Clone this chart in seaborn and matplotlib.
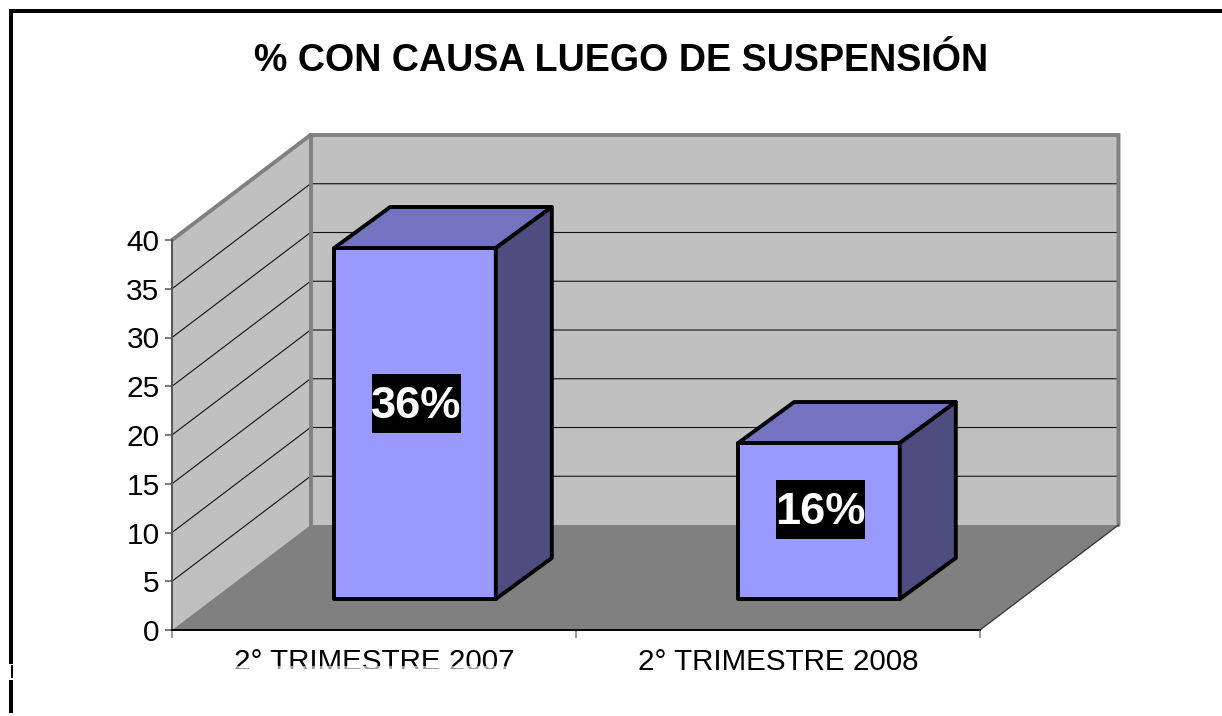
import matplotlib
matplotlib.use("Agg")
import matplotlib.pyplot as plt
from matplotlib.patches import Polygon, Rectangle
import seaborn as sns

periodos = ["2° TRIMESTRE 2007", "2° TRIMESTRE 2008"]
valores = [36, 16]
etiquetas = ["36%", "16%"]
yticks = [0, 5, 10, 15, 20, 25, 30, 35, 40]
titulo = "% CON CAUSA LUEGO DE SUSPENSIÓN"

W, H = 1222, 716
LEFT, RIGHT, BOTTOM, TOP = 172, 980, 630, 240

# pixel sizes of the fake 3D, converted to data units below
PX_X = (RIGHT - LEFT) / 2
PX_Y = (BOTTOM - TOP) / 40
wall_dx, wall_dy = 138.5 / PX_X, 105 / PX_Y
bar_off_x, bar_off_y = 41 / PX_X, 31 / PX_Y
bar_dx, bar_dy = 56 / PX_X, 41 / PX_Y

sns.set_style("white")
plt.rcParams["font.family"] = ["Liberation Sans", "DejaVu Sans"]

fig = plt.figure(figsize=(W / 100, H / 100), dpi=100, facecolor="white")
ax = fig.add_axes([LEFT / W, 1 - BOTTOM / H, (RIGHT - LEFT) / W, (BOTTOM - TOP) / H])
ax.patch.set_visible(False)

sns.barplot(x=periodos, y=valores, color="#9999FF", saturation=1, width=0.4,
            edgecolor="black", linewidth=2.8, ax=ax, zorder=4)
ax.set_xlim(-0.5, 1.5)
ax.set_ylim(0, 40)

x0, x1, y1 = -0.5, 1.5, 40


def poly(pts, fc, z, ec="none", lw=0):
    ax.add_patch(Polygon(pts, closed=True, facecolor=fc, edgecolor=ec, linewidth=lw,
                         zorder=z, clip_on=False, joinstyle="round"))


# walls and floor
poly([(x0 + wall_dx, wall_dy), (x1 + wall_dx, wall_dy), (x1 + wall_dx, y1 + wall_dy), (x0 + wall_dx, y1 + wall_dy)], "#C0C0C0", 1)
poly([(x0, 0), (x0 + wall_dx, wall_dy), (x0 + wall_dx, y1 + wall_dy), (x0, y1)], "#C0C0C0", 1)
poly([(x0, 0), (x1, 0), (x1 + wall_dx, wall_dy), (x0 + wall_dx, wall_dy)], "#808080", 1.5)

# gridlines on back and side wall
for v in yticks[1:-1]:
    ax.plot([x0, x0 + wall_dx, x1 + wall_dx], [v, v + wall_dy, v + wall_dy], color="#111111",
            lw=0.8, zorder=2, clip_on=False)

# wall borders
ax.plot([x0, x0 + wall_dx, x1 + wall_dx, x1 + wall_dx], [y1, y1 + wall_dy, y1 + wall_dy, wall_dy],
        color="#808080", lw=2.8, zorder=3, clip_on=False, solid_joinstyle="miter")
ax.plot([x0 + wall_dx, x0 + wall_dx], [wall_dy, y1 + wall_dy], color="#808080", lw=2.8, zorder=3, clip_on=False)
ax.plot([x1, x1 + wall_dx], [0, wall_dy], color="#333333", lw=0.9, zorder=3, clip_on=False)

# move seaborn's bars onto the floor and add top and side faces
for bar, val, lab in zip(ax.patches, valores, etiquetas):
    bar.set_x(bar.get_x() + bar_off_x)
    bar.set_y(bar_off_y)
    bar.set_clip_on(False)
    bar.set_joinstyle("round")
    xa, xb = bar.get_x(), bar.get_x() + bar.get_width()
    yb, yt = bar_off_y, bar_off_y + val
    poly([(xa, yt), (xb, yt), (xb + bar_dx, yt + bar_dy), (xa + bar_dx, yt + bar_dy)],
         "#7373BF", 4, "black", 2.8)
    poly([(xb, yb), (xb + bar_dx, yb + bar_dy), (xb + bar_dx, yt + bar_dy), (xb, yt)],
         "#4D4D80", 4, "black", 2.8)
    # data label, black box behind white bold text
    cx = (xa + xb) / 2 + 1.5 / PX_X
    cy = 3.82 + 0.5435 * val
    box_y = cy - 29.5 / PX_Y - 1.5 / PX_Y
    ax.add_patch(Rectangle((cx - 44.5 / PX_X, box_y), 89 / PX_X, 59 / PX_Y,
                           facecolor="black", edgecolor="none", zorder=5))
    ax.text(cx, cy, lab, color="white", fontsize=32.5, fontweight="bold",
            ha="center", va="center_baseline", zorder=6)

# axes, ticks
for s in ["top", "right"]:
    ax.spines[s].set_visible(False)
ax.spines["left"].set_color("#555555")
ax.spines["left"].set_linewidth(1.4)
ax.spines["left"].set_zorder(3)
ax.spines["bottom"].set_color("black")
ax.spines["bottom"].set_linewidth(1.4)
ax.spines["bottom"].set_zorder(3)
ax.set_yticks(yticks)
ax.set_xticks([-0.5, 0.5, 1.5], minor=True)
ax.tick_params(axis="x", which="major", length=0, pad=13, labelsize=21.3, labelcolor="black")
ax.tick_params(axis="x", which="minor", bottom=True, length=6, width=1.1, color="#808080")
ax.tick_params(axis="y", left=True, length=5, width=1.1, color="#555555", pad=4,
               labelsize=21.5, labelcolor="black")

fig.text(621 / W, 1 - 61 / H, titulo, fontsize=27.1, fontweight="bold", color="black",
         ha="center", va="center")


def px_rect(xa, ya, xb, yb, **kw):
    fig.add_artist(Rectangle((xa / W, 1 - yb / H), (xb - xa) / W, (yb - ya) / H,
                             transform=fig.transFigure, edgecolor="none", **kw))


# outer frame, only top and left survive in the source
px_rect(9, 9, W, 13, facecolor="black", zorder=6)
px_rect(9, 9, 13, 664, facecolor="black", zorder=6)
px_rect(11, 665, 13, 678, facecolor="black", zorder=6)
px_rect(9, 680, 13, 713, facecolor="black", zorder=6)

# the white patch that cuts the first category label
px_rect(200, 666, 520, 669, facecolor="white", alpha=0.6, zorder=5)
px_rect(200, 669, 520, 680, facecolor="white", zorder=5)

fig.savefig("out.png", dpi=100)
